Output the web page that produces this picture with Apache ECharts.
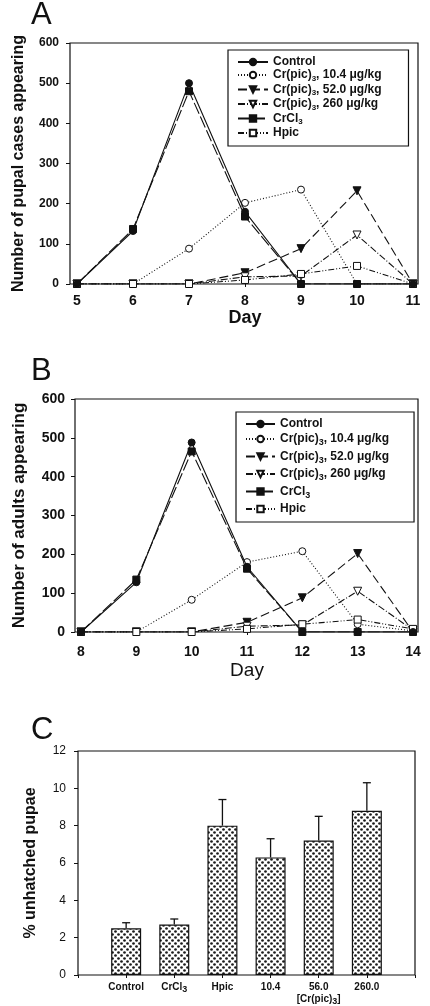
<!DOCTYPE html>
<html>
<head>
<meta charset="utf-8">
<script src="https://cdn.jsdelivr.net/npm/echarts@6/dist/echarts.min.js"></script>
<style>html,body{margin:0;padding:0;background:#fff}#c{width:430px;height:1006px}</style>
</head>
<body>
<div id="c"></div>
<script>
// ---------- data ----------
const seriesNames = ['Control', 'Cr(pic)3, 10.4 μg/kg', 'Cr(pic)3, 52.0 μg/kg', 'Cr(pic)3, 260 μg/kg', 'CrCl3', 'Hpic'];

const daysA = [5, 6, 7, 8, 9, 10, 11];
const controlA = [0, 132, 500, 180, 0, 0, 0];
const cr104A = [0, 0, 88, 202, 235, 0, 0];
const cr52A = [0, 0, 0, 28, 88, 232, 0];
const cr260A = [0, 0, 0, 18, 20, 122, 0];
const crcl3A = [0, 137, 480, 168, 0, 0, 0];
const hpicA = [0, 0, 0, 10, 25, 45, 0];

const daysB = [8, 9, 10, 11, 12, 13, 14];
const controlB = [0, 128, 488, 168, 0, 0, 0];
const cr104B = [0, 0, 83, 180, 208, 20, 3];
const cr52B = [0, 0, 0, 25, 88, 202, 0];
const cr260B = [0, 0, 0, 15, 18, 105, 5];
const crcl3B = [0, 135, 465, 163, 0, 0, 0];
const hpicB = [0, 0, 0, 8, 20, 32, 8];

const groupsC = ['Control', 'CrCl3', 'Hpic', '10.4', '56.0', '260.0'];
const groupLabelC = '[Cr(pic)3]';
const meanC = [2.5, 2.7, 8.0, 6.3, 7.2, 8.8];
const semC = [0.3, 0.3, 1.4, 1.0, 1.3, 1.5];

const ticksA = [0, 100, 200, 300, 400, 500, 600];
const ticksC = [0, 2, 4, 6, 8, 10, 12];

// ---------- styles ----------
const INK = '#111';
const FONT = '"Liberation Sans", Arial, sans-serif';
const styles = [
  { symbol: 'circle', size: 7, fill: INK, type: 'solid', rot: 0 },
  { symbol: 'circle', size: 7, fill: '#fff', type: [1, 2], rot: 0 },
  { symbol: 'triangle', size: 8, fill: INK, type: [9, 4], rot: 180 },
  { symbol: 'triangle', size: 8, fill: '#fff', type: [7, 2, 1, 2], rot: 180 },
  { symbol: 'rect', size: 7, fill: INK, type: [12, 3], rot: 0 },
  { symbol: 'rect', size: 7, fill: '#fff', type: [6, 2, 1, 2, 1, 2], rot: 0 }
];

function sub(s) {
  return s.replace('(pic)3', '(pic){s|3}').replace('CrCl3', 'CrCl{s|3}');
}

function lineSeries(days, arrays, axisIdx) {
  return arrays.map((arr, k) => ({
    type: 'line',
    name: seriesNames[k],
    xAxisIndex: axisIdx,
    yAxisIndex: axisIdx,
    data: days.map((d, i) => [d, arr[i]]),
    symbol: styles[k].symbol,
    symbolSize: styles[k].size,
    symbolRotate: styles[k].rot,
    showAllSymbol: true,
    lineStyle: { color: INK, width: 1.1, type: styles[k].type },
    itemStyle: { color: styles[k].fill, borderColor: INK, borderWidth: 1 },
    z: 3 + (k === 0 ? 2 : 0)
  }));
}

// stippled fill pattern
const pat = document.createElement('canvas');
pat.width = 6; pat.height = 6;
const pc = pat.getContext('2d');
pc.fillStyle = '#fff'; pc.fillRect(0, 0, 6, 6);
pc.fillStyle = '#1a1a1a';
pc.beginPath(); pc.arc(1.5, 1.5, 1.35, 0, Math.PI * 2); pc.fill();
pc.beginPath(); pc.arc(4.5, 4.5, 1.35, 0, Math.PI * 2); pc.fill();

const hidden = { show: false };
const axisTxt = { color: INK, fontFamily: FONT };

const option = {
  animation: false,
  backgroundColor: '#fff',
  title: [
    { text: 'A', left: 31, top: 0, padding: 0, textStyle: { fontSize: 31, fontWeight: 'normal', color: INK, fontFamily: FONT } },
    { text: 'B', left: 31, top: 356, padding: 0, textStyle: { fontSize: 31, fontWeight: 'normal', color: INK, fontFamily: FONT } },
    { text: 'C', left: 31, top: 715, padding: 0, textStyle: { fontSize: 31, fontWeight: 'normal', color: INK, fontFamily: FONT } }
  ],
  grid: [
    { left: 70, top: 43, width: 348, height: 241, show: true, borderColor: INK, borderWidth: 1.2 },
    { left: 77, top: 43, width: 336, height: 241 },
    { left: 75, top: 399, width: 343, height: 233, show: true, borderColor: INK, borderWidth: 1.2 },
    { left: 81, top: 399, width: 332, height: 233 },
    { left: 78, top: 751, width: 337, height: 226, show: true, borderColor: INK, borderWidth: 1.2 }
  ],
  legend: [
    {
      data: seriesNames, orient: 'vertical', left: 228, top: 50,
      itemWidth: 30, itemHeight: 8, itemGap: 1,
      padding: [6, 27, 7, 9], borderColor: INK, borderWidth: 1.2,
      formatter: sub,
      textStyle: { fontSize: 12, fontWeight: 'bold', color: INK, fontFamily: FONT,
        rich: { s: { fontSize: 8, fontWeight: 'bold', color: INK, fontFamily: FONT, padding: [7, 0, 0, 0] } } }
    },
    {
      data: seriesNames, orient: 'vertical', left: 236, top: 412,
      itemWidth: 29, itemHeight: 8, itemGap: 3,
      padding: [6, 25, 7, 9], borderColor: INK, borderWidth: 1.2,
      formatter: sub,
      textStyle: { fontSize: 12, fontWeight: 'bold', color: INK, fontFamily: FONT,
        rich: { s: { fontSize: 9, fontWeight: 'bold', color: INK, fontFamily: FONT, padding: [8, 0, 0, 0] } } }
    }
  ],
  xAxis: [
    { gridIndex: 0, type: 'value', min: 0, max: 1, show: false },
    {
      gridIndex: 1, type: 'value', min: 5, max: 11, interval: 1,
      axisLine: hidden, splitLine: hidden,
      axisTick: { show: true, length: 3, lineStyle: { color: INK } },
      axisLabel: Object.assign({ fontSize: 14, fontWeight: 'bold', margin: 10 }, axisTxt),
      name: 'Day', nameLocation: 'middle', nameGap: 24,
      nameTextStyle: Object.assign({ fontSize: 18, fontWeight: 'bold' }, axisTxt)
    },
    { gridIndex: 2, type: 'value', min: 0, max: 1, show: false },
    {
      gridIndex: 3, type: 'value', min: 8, max: 14, interval: 1,
      axisLine: hidden, splitLine: hidden,
      axisTick: { show: true, length: 3, lineStyle: { color: INK } },
      axisLabel: Object.assign({ fontSize: 14, fontWeight: 'bold', margin: 13 }, axisTxt),
      name: 'Day', nameLocation: 'middle', nameGap: 29,
      nameTextStyle: Object.assign({ fontSize: 19 }, axisTxt)
    },
    {
      gridIndex: 4, type: 'value', min: 0, max: 7, interval: 1,
      axisLine: hidden, splitLine: hidden,
      axisTick: { show: true, length: 3, lineStyle: { color: INK } },
      axisLabel: Object.assign({
        fontSize: 10, fontWeight: 'bold', margin: 6, lineHeight: 12,
        formatter: v => {
          if (v < 1 || v > 6) return '';
          let s = sub(groupsC[v - 1]);
          if (v === 5) s += '\n' + sub(groupLabelC);
          return s;
        },
        rich: { s: { fontSize: 9, fontWeight: 'bold', color: INK, fontFamily: FONT, padding: [5, 0, 0, 0] } }
      }, axisTxt)
    }
  ],
  yAxis: [
    { gridIndex: 0, type: 'value', min: 0, max: 1, show: false },
    {
      gridIndex: 1, type: 'value', min: ticksA[0], max: ticksA[ticksA.length - 1], interval: 100, offset: 7,
      axisLine: hidden, splitLine: hidden,
      axisTick: { show: true, length: 4, lineStyle: { color: INK } },
      axisLabel: Object.assign({ fontSize: 12, fontWeight: 'bold', margin: 11 }, axisTxt),
      name: 'Number of pupal cases appearing', nameLocation: 'middle', nameGap: 43,
      nameTextStyle: Object.assign({ fontSize: 16, fontWeight: 'bold' }, axisTxt)
    },
    { gridIndex: 2, type: 'value', min: 0, max: 1, show: false },
    {
      gridIndex: 3, type: 'value', min: 0, max: 600, interval: 100, offset: 6,
      axisLine: hidden, splitLine: hidden,
      axisTick: { show: true, length: 4, lineStyle: { color: INK } },
      axisLabel: Object.assign({ fontSize: 14, fontWeight: 'bold', margin: 10 }, axisTxt),
      name: 'Number of adults appearing', nameLocation: 'middle', nameGap: 47,
      nameTextStyle: Object.assign({ fontSize: 17, fontWeight: 'bold' }, axisTxt)
    },
    {
      gridIndex: 4, type: 'value', min: ticksC[0], max: ticksC[ticksC.length - 1], interval: 2,
      axisLine: hidden, splitLine: hidden,
      axisTick: { show: true, length: 4, lineStyle: { color: INK } },
      axisLabel: Object.assign({ fontSize: 12, margin: 12 }, axisTxt),
      name: '% unhatched pupae', nameLocation: 'middle', nameGap: 39,
      nameTextStyle: Object.assign({ fontSize: 16, fontWeight: 'bold' }, axisTxt)
    }
  ],
  series: [
    ...lineSeries(daysA, [controlA, cr104A, cr52A, cr260A, crcl3A, hpicA], 1),
    ...lineSeries(daysB, [controlB, cr104B, cr52B, cr260B, crcl3B, hpicB], 3),
    {
      type: 'bar', name: 'unhatched', xAxisIndex: 4, yAxisIndex: 4,
      data: groupsC.map((g, i) => [i + 1, meanC[i]]),
      barWidth: 30,
      itemStyle: { color: { image: pat, repeat: 'repeat' }, borderColor: INK, borderWidth: 1.2 }
    },
    {
      type: 'custom', name: 'sem', xAxisIndex: 4, yAxisIndex: 4,
      data: groupsC.map((g, i) => [i + 1, meanC[i], meanC[i] + semC[i]]),
      renderItem: (params, api) => {
        const p0 = api.coord([api.value(0), api.value(1)]);
        const p1 = api.coord([api.value(0), api.value(2)]);
        const st = { stroke: INK, lineWidth: 1.3 };
        return { type: 'group', children: [
          { type: 'line', shape: { x1: p0[0], y1: p0[1], x2: p1[0], y2: p1[1] }, style: st },
          { type: 'line', shape: { x1: p1[0] - 4, y1: p1[1], x2: p1[0] + 4, y2: p1[1] }, style: st }
        ] };
      },
      z: 5
    }
  ]
};

const chart = echarts.init(document.getElementById('c'), null, { renderer: 'canvas' });
chart.setOption(option);
</script>
</body>
</html>
